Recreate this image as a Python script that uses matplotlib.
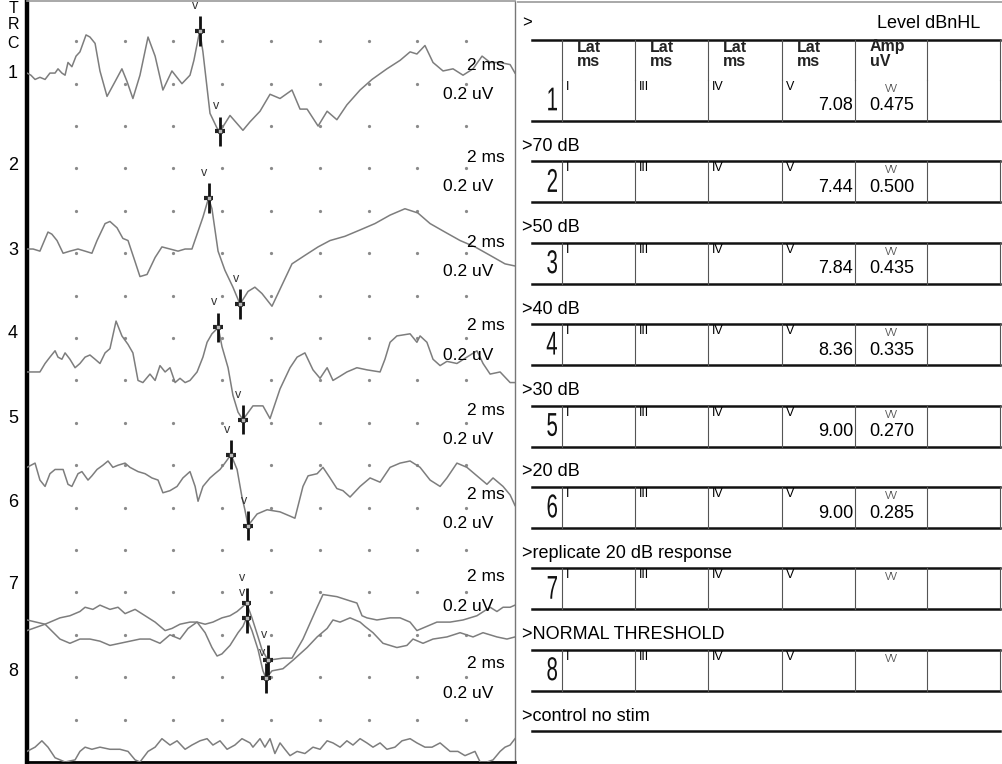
import matplotlib.pyplot as plt
from matplotlib.textpath import TextPath
from matplotlib.patches import PathPatch
from matplotlib.font_manager import FontProperties
from matplotlib.transforms import Affine2D

plt.rcParams['font.family'] = ['Liberation Sans', 'DejaVu Sans']

# wave V latency (ms) and V-V' amplitude (uV) per level
levels = [">70 dB", ">50 dB", ">40 dB", ">30 dB", ">20 dB",
          ">replicate 20 dB response", ">NORMAL THRESHOLD", ">control no stim"]
lat_v = [7.08, 7.44, 7.84, 8.36, 9.00, 9.00, None, None]
amp_vv = [0.475, 0.500, 0.435, 0.335, 0.270, 0.285, None, None]
trough_t = [7.91, 8.73, 8.85, 9.06, 9.88, 9.80]
peak_uv = [0.20, 0.24, 0.21, 0.06, 0.09, 0.02]
offsets = [-0.15, -0.98, -1.56, -2.01, -2.74, -2.74]
ctrl_offset = -3.34
chan_y = [-0.15, -0.585, -0.985, -1.38, -1.78, -2.175, -2.565, -2.975]

t1 = [0.00, 0.16, 0.33, 0.53, 0.74, 0.94, 1.15, 1.27, 1.43, 1.56, 1.68, 1.84, 2.01, 2.17, 2.42, 2.58,
      2.79, 2.99, 3.28, 3.61, 3.89, 4.10, 4.34, 4.63, 4.96, 5.25, 5.57, 5.94, 6.35, 6.68, 6.84, 7.21,
      7.50, 7.79, 8.32, 8.85, 9.14, 9.55, 9.96, 10.37, 10.86, 11.19, 11.48, 11.93, 12.30, 12.70, 13.11,
      13.65, 14.14, 14.75, 15.29, 15.70, 15.98, 16.31, 16.64, 17.05, 17.46, 17.87, 18.28, 18.65, 18.98,
      19.39, 19.80, 20.00]
v1 = [0.00, -0.01, -0.03, -0.02, -0.03, 0.00, 0.00, 0.02, 0.00, -0.01, 0.05, 0.03, 0.08, 0.10, 0.18, 0.17,
      0.14, 0.01, -0.11, -0.04, 0.02, -0.04, -0.12, -0.01, 0.17, 0.08, -0.08, 0.01, -0.05, -0.01, 0.06, 0.10,
      -0.19, -0.26, -0.20, -0.27, -0.23, -0.18, -0.10, -0.12, -0.08, -0.17, -0.17, -0.25, -0.18, -0.22, -0.15,
      -0.08, -0.03, 0.02, 0.06, 0.10, 0.09, 0.13, 0.05, 0.01, 0.02, -0.01, 0.02, 0.08, 0.05,
      0.05, 0.04, 0.00]

t2 = [0.00, 0.25, 0.53, 0.86, 1.02, 1.23, 1.48, 1.76, 2.09, 2.38, 2.66, 2.87, 3.20, 3.40, 3.69, 3.93,
      4.14, 4.43, 4.63, 4.92, 5.25, 5.53, 5.86, 6.19, 6.48, 6.76, 6.97, 7.21, 7.58, 7.83, 8.11, 8.44,
      9.06, 9.34, 9.63, 10.04, 10.45, 10.86, 11.39, 11.93, 12.42, 13.03, 13.65, 14.26, 14.88, 15.49,
      16.02, 16.52, 17.13, 17.75, 18.36, 18.98, 19.59, 20.00]
v2 = [0.00, 0.00, -0.01, 0.08, 0.07, 0.04, -0.02, -0.01, 0.00, -0.01, -0.02, 0.04, 0.12, 0.13, 0.10, 0.05,
      0.04, -0.06, -0.13, -0.12, -0.04, 0.01, 0.00, -0.01, 0.00, 0.00, 0.07, 0.15, 0.19, -0.01, -0.10, -0.18,
      -0.20, -0.18, -0.21, -0.27, -0.17, -0.07, -0.03, 0.01, 0.04, 0.06, 0.09, 0.12, 0.16, 0.19,
      0.17, 0.12, 0.08, 0.04, 0.01, -0.03, -0.07, -0.08]

t3 = [0.00, 0.53, 0.74, 0.94, 1.15, 1.27, 1.43, 1.56, 1.76, 1.97, 2.17, 2.38, 2.58, 2.79, 2.99, 3.20,
      3.40, 3.65, 3.89, 4.14, 4.34, 4.55, 4.75, 5.04, 5.25, 5.45, 5.66, 5.86, 6.07, 6.27, 6.48, 6.68,
      6.97, 7.21, 7.38, 7.58, 7.99, 8.24, 8.44, 8.65, 9.26, 9.67, 9.96, 10.37, 10.78, 11.07, 11.39,
      11.72, 12.01, 12.30, 12.54, 12.83, 13.11, 13.52, 13.93, 14.47, 14.67, 14.88, 15.16, 15.70, 15.98,
      16.11, 16.39, 16.64, 16.93, 17.21, 17.62, 18.03, 18.44, 18.69, 18.98, 19.39, 19.80, 20.00]
v3 = [0.00, 0.00, 0.04, 0.07, 0.10, 0.07, 0.06, 0.09, 0.06, 0.02, 0.04, 0.07, 0.08, 0.06, 0.04, 0.09,
      0.11, 0.24, 0.17, 0.13, 0.09, -0.04, -0.05, -0.01, -0.04, 0.03, 0.00, 0.02, -0.05, -0.03, -0.05, -0.04,
      0.00, 0.07, 0.14, 0.18, 0.12, 0.02, -0.11, -0.19, -0.16, -0.16, -0.22, -0.08, 0.02, 0.07, 0.09,
      0.01, -0.03, 0.02, -0.04, -0.02, 0.00, 0.02, 0.01, 0.00, 0.06, 0.14, 0.17, 0.18, 0.14,
      0.17, 0.14, 0.06, 0.03, 0.05, 0.04, 0.07, 0.10, 0.04, -0.01, 0.00, -0.05, -0.05]

t4 = [0.00, 0.33, 0.53, 0.74, 0.94, 1.15, 1.48, 1.68, 1.84, 2.09, 2.25, 2.50, 2.66, 2.87, 3.11, 3.32,
      3.52, 3.73, 4.02, 4.22, 4.55, 4.84, 5.12, 5.37, 5.57, 5.86, 6.15, 6.39, 6.68, 6.89, 7.01, 7.21,
      7.50, 7.70, 7.91, 8.11, 8.61, 8.81, 8.93, 9.43, 9.84, 10.37, 10.78, 10.98, 11.31, 11.52, 11.89,
      12.13, 12.42, 12.70, 12.95, 13.24, 13.65, 14.06, 14.47, 14.88, 15.29, 15.70, 16.11, 16.52, 16.93,
      17.21, 17.62, 18.03, 18.44, 18.85, 19.10, 19.51, 19.80, 20.00]
v4 = [0.00, 0.02, -0.06, -0.09, -0.03, -0.01, -0.01, -0.08, -0.09, -0.03, -0.02, -0.06, -0.04, -0.01, 0.01, 0.03,
      0.00, 0.01, 0.02, 0.00, -0.02, -0.03, -0.05, -0.06, -0.12, -0.11, -0.09, -0.05, -0.02, -0.09, -0.16, -0.09,
      -0.05, -0.03, -0.01, 0.02, -0.01, -0.14, -0.20, -0.22, -0.20, -0.21, -0.23, -0.24, -0.09, -0.04, -0.03,
      0.00, -0.05, -0.10, -0.11, -0.14, -0.09, -0.05, -0.07, 0.00, 0.02, 0.03, 0.00, -0.06, -0.09,
      -0.05, 0.02, 0.00, -0.04, -0.08, -0.05, -0.09, -0.13, -0.18]

t5 = [0.00, 0.74, 1.35, 1.76, 2.17, 2.38, 2.70, 2.99, 3.40, 3.73, 4.02, 4.43, 4.84, 5.25, 5.66, 5.94,
      6.27, 6.68, 6.97, 7.30, 7.62, 7.99, 8.32, 8.61, 8.81, 9.22, 9.47, 9.63, 10.49, 10.86, 11.31, 11.89,
      12.13, 12.70, 13.24, 13.52, 13.73, 13.93, 14.34, 14.88, 15.29, 15.70, 15.98, 16.39, 16.80, 17.34,
      17.87, 18.44, 18.98, 19.26, 19.51, 19.80, 20.00]
v5 = [-0.04, -0.01, 0.02, 0.03, 0.05, 0.07, 0.06, 0.08, 0.06, 0.07, 0.04, 0.06, 0.03, 0.00, -0.04, -0.03,
      -0.01, 0.00, 0.00, -0.01, 0.00, 0.02, 0.03, 0.05, 0.07, 0.02, -0.07, -0.13, -0.17, -0.17, -0.08, 0.07,
      0.13, 0.12, 0.10, 0.09, 0.03, 0.02, 0.01, 0.02, 0.02, 0.00, -0.04, -0.02, 0.00, 0.00,
      0.01, 0.03, 0.07, 0.05, 0.07, 0.07, 0.08]

t6 = [0.00, 0.74, 1.35, 1.76, 2.17, 2.58, 2.99, 3.40, 3.81, 4.22, 4.63, 5.04, 5.45, 5.86, 6.27, 6.60,
      6.97, 7.30, 7.58, 7.79, 7.99, 8.32, 8.65, 8.85, 9.22, 9.47, 9.67, 10.04, 10.49, 10.90, 11.48, 11.89,
      12.30, 12.54, 12.83, 13.24, 13.65, 13.85, 14.18, 14.59, 15.16, 15.57, 15.82, 16.23, 16.64, 17.21,
      17.75, 18.28, 18.69, 19.26, 19.67, 20.00]
v6 = [0.01, -0.01, -0.08, -0.10, -0.08, -0.08, -0.09, -0.11, -0.10, -0.09, -0.08, -0.08, -0.10, -0.06, -0.08, -0.03,
      0.00, -0.05, -0.12, -0.16, -0.15, -0.11, -0.05, -0.02, -0.04, -0.13, -0.23, -0.23, -0.22, -0.18, -0.12, -0.07,
      -0.03, 0.01, 0.00, 0.02, 0.00, -0.02, -0.05, -0.10, -0.12, -0.11, -0.08, -0.10, -0.08, -0.07,
      -0.05, -0.07, -0.05, -0.07, -0.08, -0.07]

tc = [0.00, 0.33, 0.61, 0.86, 1.15, 1.56, 1.97, 2.17, 2.38, 2.66, 2.99, 3.40, 3.81, 4.14, 4.43, 4.63,
      4.96, 5.25, 5.53, 5.86, 6.15, 6.48, 6.76, 7.09, 7.38, 7.62, 7.91, 8.20, 8.52, 8.81, 9.14, 9.26,
      9.55, 9.75, 9.96, 10.16, 10.37, 10.57, 10.78, 11.07, 11.39, 11.72, 12.01, 12.30, 12.54, 12.83,
      13.11, 13.36, 13.65, 13.93, 14.18, 14.47, 14.75, 15.08, 15.37, 15.70, 15.98, 16.31, 16.60, 16.93,
      17.34, 17.66, 17.95, 18.36, 18.57, 18.85, 19.10, 19.39, 19.59, 19.80, 20.00]
vc = [-0.01, 0.01, 0.04, 0.01, -0.04, -0.06, -0.05, -0.01, 0.01, 0.00, 0.01, 0.00, 0.00, -0.01, -0.05, -0.06,
      -0.01, 0.01, 0.05, 0.02, 0.04, 0.00, 0.02, 0.04, 0.05, 0.02, 0.04, 0.00, 0.02, 0.05, 0.03, 0.01,
      0.05, 0.01, 0.05, -0.02, 0.03, 0.00, -0.03, -0.01, -0.02, 0.01, 0.00, 0.04, 0.03, 0.01,
      0.04, 0.02, 0.05, 0.03, 0.01, 0.03, 0.00, 0.01, 0.04, 0.05, 0.03, 0.01, 0.01, 0.03,
      -0.01, -0.01, -0.03, -0.01, -0.06, -0.06, -0.05, -0.01, 0.01, 0.02, 0.05]

traces = [(t1, v1), (t2, v2), (t3, v3), (t4, v4), (t5, v5), (t6, v6)]

W, H = 1002, 764
fig = plt.figure(figsize=(W / 100, H / 100), dpi=100)
fig.patch.set_facecolor('white')

# ---- waveform panel ----
ax = fig.add_axes([27 / W, 2 / H, 488 / W, 761 / H])
ax.set_xlim(0, 20)
ax.set_ylim(-3.40, 0.19)
ax.set_xticks([])
ax.set_yticks([])
ax.spines['left'].set_linewidth(3.2)
ax.spines['bottom'].set_linewidth(2.0)
ax.spines['top'].set_color('#999999')
ax.spines['top'].set_linewidth(1.2)
ax.spines['right'].set_color('#777777')
ax.spines['right'].set_linewidth(1.0)

# dot grid: 2 ms x 0.2 uV
gx = [2 * i for i in range(1, 10)]
gy = [-0.2 * k for k in range(17)]
for y in gy:
    ax.plot(gx, [y] * len(gx), ls='none', marker='o', ms=1.3, color='#8a8a8a')

wave_col = '#7d7d7d'


def mark(t, y):
    ax.plot([t, t], [y - 0.07, y + 0.07], color='#111111', lw=2.0, solid_capstyle='butt', zorder=4)
    ax.plot([t - 0.2, t + 0.2], [y, y], color='#222222', lw=3.0, solid_capstyle='butt', zorder=4)
    ax.plot(t, y, marker='s', ms=3, mfc='#bbbbbb', mec='#333333', mew=0.6, zorder=5)
    ax.text(t - 0.18, y + 0.09, 'v', fontsize=9, color='#333333', ha='center', va='bottom', zorder=5)


for i, (t, v) in enumerate(traces):
    off = offsets[i]
    vt = peak_uv[i] - amp_vv[i]
    pts = sorted(list(zip(t, v)) + [(lat_v[i], peak_uv[i]), (trough_t[i], vt)])
    ax.plot([p[0] for p in pts], [p[1] + off for p in pts], color=wave_col, lw=1.1, zorder=3)
    mark(lat_v[i], peak_uv[i] + off)
    mark(trough_t[i], vt + off)

ax.plot(tc, [v + ctrl_offset for v in vc], color=wave_col, lw=1.1, zorder=3)

# channel labels and scale captions
for ch, yl in zip('TRC', [0.155, 0.08, -0.01]):
    ax.text(-0.57, yl, ch, fontsize=11.5, ha='center', va='center', clip_on=False)
for k, yl in enumerate(chan_y):
    ax.text(-0.57, yl, str(k + 1), fontsize=13, ha='center', va='center', clip_on=False)
    ax.text(19.6, yl + 0.038, '2 ms', fontsize=12.5, ha='right', va='center', zorder=6)
    ax.text(17.05, yl - 0.10, '0.2 uV', fontsize=12.5, ha='left', va='center', zorder=6)

# ---- results table ----
tab = fig.add_axes([517 / W, 0, (W - 517) / W, 1])
tab.set_xlim(517, W)
tab.set_ylim(H, 0)
tab.axis('off')

col_x = [532, 562, 635, 708, 782, 855, 927, 1000]
row_h = 41
row_top = [80 + 81.4 * i for i in range(8)]
romans = ['I', 'III', 'IV', 'V']
line_kw = dict(color='#111111', lw=1.8)
vline_kw = dict(color='#555555', lw=0.8)
narrow = FontProperties(family='Liberation Sans')


def narrow_num(x, y, s, size=33, sx=0.62):
    # condensed row number, right edge at x, centred on y
    tp = TextPath((0, 0), s, size=size, prop=narrow)
    bb = tp.get_extents()
    tr = Affine2D().translate(-bb.x1, -(bb.y0 + bb.y1) / 2).scale(sx, -1).translate(x, y)
    tab.add_patch(PathPatch(tr.transform_path(tp), facecolor='#111111', edgecolor='none'))


tab.plot([517, W], [1.5, 1.5], color='#999999', lw=1.2)
tab.text(522, 23, '>', fontsize=12, va='center')
tab.text(980, 24, 'Level dBnHL', fontsize=13, ha='right', va='center')

# header
tab.plot([col_x[0], col_x[-1]], [40, 40], **line_kw)
hdr = [('Lat', 'ms')] * 4 + [('Amp', 'uV')]
for c, (a, b) in enumerate(hdr):
    tab.text(col_x[c + 1] + 15, 47, a, fontsize=11.5, va='center', fontweight='bold', color='#222222')
    tab.text(col_x[c + 1] + 15, 62, b, fontsize=11.5, va='center', fontweight='bold', color='#222222')
for x in col_x[1:]:
    tab.plot([x, x], [40, 80], **vline_kw)

for r in range(8):
    top = row_top[r]
    bot = top + row_h
    if r > 0:
        tab.plot([col_x[0], col_x[-1]], [top, top], **line_kw)
        tab.text(522, top - 15, levels[r - 1], fontsize=13, va='center')
    tab.plot([col_x[0], col_x[-1]], [bot, bot], **line_kw)
    for x in col_x[1:]:
        tab.plot([x, x], [top, bot], **vline_kw)
    narrow_num(557, top + 19, str(r + 1))
    for c, rn in enumerate(romans):
        tab.text(col_x[c + 1] + 4, top + 1, rn, fontsize=9, va='top')
    tab.text(891, top + 9, 'VV', fontsize=7, ha='center', va='center', color='#555555')
    if lat_v[r] is not None:
        tab.text(853, top + 26, f'{lat_v[r]:.2f}', fontsize=13, ha='right', va='center')
        tab.text(892, top + 26, f'{amp_vv[r]:.3f}', fontsize=13, ha='center', va='center')

ctrl_top = 80 + 81.4 * 8
tab.text(522, ctrl_top - 15, levels[7], fontsize=13, va='center')
tab.plot([col_x[0], col_x[-1]], [ctrl_top, ctrl_top], **line_kw)

fig.savefig('out.png', dpi=100)
